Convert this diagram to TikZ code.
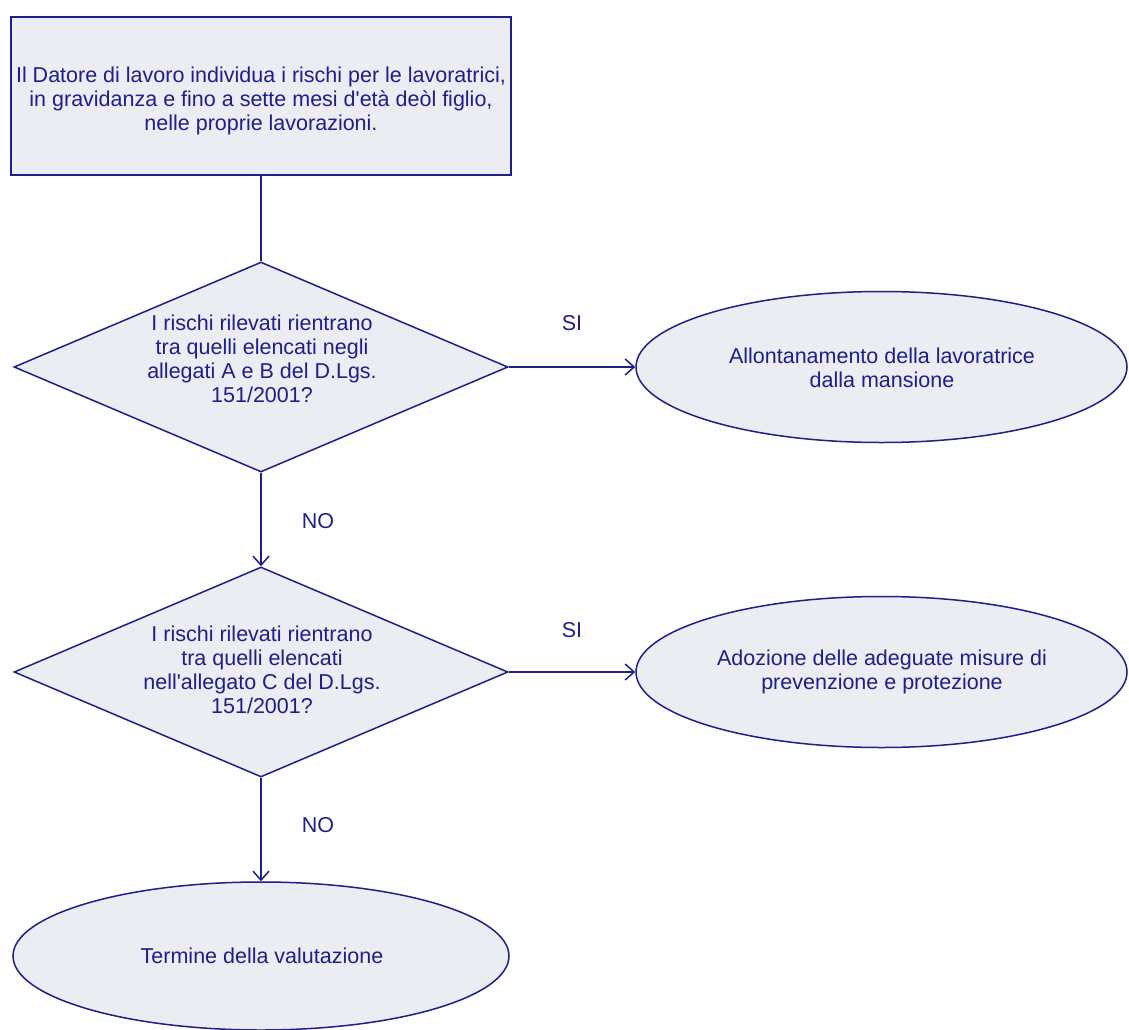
\documentclass[tikz,border=0pt]{standalone}
\usepackage{fontspec}
\setmainfont{Liberation Sans}
\usetikzlibrary{shapes.geometric,arrows.meta}
\definecolor{navy}{HTML}{1E1E8C}
\definecolor{shapefill}{HTML}{ECECF3}
\tikzset{
  shapeline/.style={draw=navy, line width=1.5pt, fill=shapefill, inner sep=0pt},
  boxshape/.style={shapeline, rectangle, minimum width=500pt, minimum height=158pt},
  decision/.style={shapeline, diamond, minimum width=494pt, minimum height=210pt},
  terminal/.style={shapeline, ellipse, minimum width=491pt, minimum height=151pt},
  txt/.style={text=navy, align=center, font=\fontsize{21.5}{24}\selectfont, inner sep=0pt},
  lbl/.style={text=navy, font=\fontsize{21.5}{24}\selectfont, inner sep=0pt},
  conn/.style={draw=navy, line width=1.5pt},
  arr/.style={conn, -{Straight Barb[length=9pt,width=16pt,line width=1.5pt]}},
}
\begin{document}
\begin{tikzpicture}[x=1pt,y=-1pt]
\useasboundingbox[fill=white] (0,0) rectangle (1129,1030);

\node[boxshape] (box) at (261,96) {};
\node[txt] (boxt) at (261,101) {Il Datore di lavoro individua i rischi per le lavoratrici,\\in gravidanza e fino a sette mesi d\textquotesingle età deòl figlio,\\nelle proprie lavorazioni.};

\node[decision] (d1) at (261,367) {};
\node[txt] (d1t) at (262,359) {I rischi rilevati rientrano\\tra quelli elencati negli\\allegati A e B del D.Lgs.\\151/2001?};

\node[decision] (d2) at (261,672) {};
\node[txt] (d2t) at (262,670) {I rischi rilevati rientrano\\tra quelli elencati\\nell\textquotesingle allegato C del D.Lgs.\\151/2001?};

\node[terminal] (e1) at (881.5,367) {};
\node[txt] (e1t) at (882,368) {Allontanamento della lavoratrice\\dalla mansione};

\node[terminal] (e2) at (881.5,672) {};
\node[txt] (e2t) at (882,672) {Adozione delle adeguate misure di\\prevenzione e protezione};

\node[terminal, minimum width=496pt, minimum height=148pt] (e3) at (261,956) {};
\node[txt] (e3t) at (262,956) {Termine della valutazione};

\draw[conn] (box.south) -- (d1.north);
\draw[arr] (d1.east) -- (e1.west);
\draw[arr] (d1.south) -- (d2.north);
\draw[arr] (d2.east) -- (e2.west);
\draw[arr] (d2.south) -- (e3.north);

\node[lbl] (si1) at (572,323) {SI};
\node[lbl] (si2) at (572,630) {SI};
\node[lbl] (no1) at (318,521) {NO};
\node[lbl] (no2) at (318,825) {NO};
\end{tikzpicture}
\end{document}
